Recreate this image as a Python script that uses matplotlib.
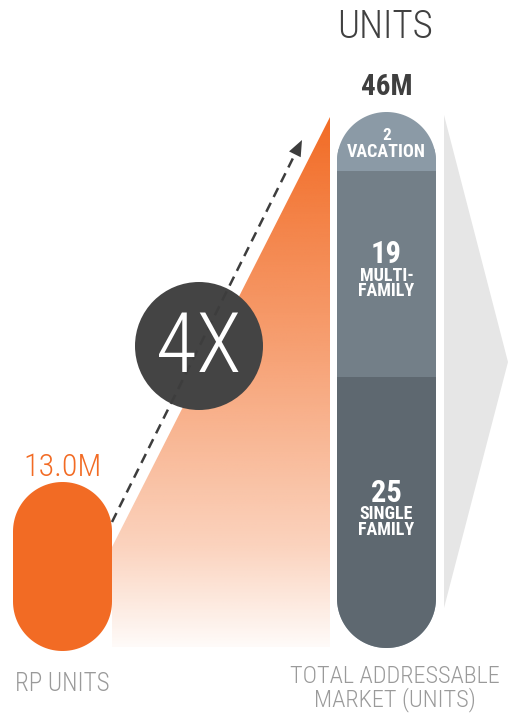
import numpy as np
import matplotlib
matplotlib.use("Agg")
import matplotlib.pyplot as plt
from matplotlib.patches import Polygon, Circle

# data
rp_units = 13.0
tam_total = 46
segment_values = [25, 19, 2]
segment_numbers = ["25", "19", "2"]
segment_names = ["SINGLE\nFAMILY", "MULTI-\nFAMILY", "VACATION"]
segment_colors = ["#5e6870", "#737f88", "#8b9aa6"]
multiple_label = "4X"
title = "UNITS"
rp_label = "RP UNITS"
tam_label = "TOTAL ADDRESSABLE\nMARKET (UNITS)"

ORANGE = "#f26b24"
FONT = ["Roboto Condensed", "Archivo Narrow", "Sofia Sans Condensed", "DejaVu Sans"]
plt.rcParams["font.family"] = FONT

W, H = 508, 714
fig = plt.figure(figsize=(W / 100, H / 100), dpi=100)

def px_axes(x0, y0, x1, y1):
    a = fig.add_axes([x0 / W, 1 - y1 / H, (x1 - x0) / W, (y1 - y0) / H])
    a.axis("off")
    return a

def pill(x0, y0, w, h, **kw):
    # stadium shape in pixel coords (y grows downward)
    r = w / 2
    cx = x0 + r
    a = np.linspace(np.pi, 2 * np.pi, 60)
    top = np.column_stack([cx + r * np.cos(a), y0 + r + r * np.sin(a)])
    a = np.linspace(0, np.pi, 60)
    bot = np.column_stack([cx + r * np.cos(a), y0 + h - r + r * np.sin(a)])
    return Polygon(np.vstack([top, bot]), closed=True, **kw)

# background layer in pixel coords
bg = px_axes(0, 0, W, H)

# light grey chevron on the right
bg.add_patch(Polygon([(444, 115), (508, 362), (444, 608)], closed=True,
                     facecolor="#e6e6e6", edgecolor="none"))

# orange gradient wedge (fades to white towards the bottom)
grad = np.zeros((300, 1, 4))
t = np.linspace(0, 1, 300)
grad[:, 0, :3] = matplotlib.colors.to_rgb(ORANGE)
grad[:, 0, 3] = np.interp(t, [0, 0.44, 0.81, 1], [1, 0.64, 0.3, 0.03])
img = bg.imshow(grad, extent=(112, 330, 647, 117), aspect="auto", origin="upper")
wedge = Polygon([(112, 547), (330, 117), (330, 647), (112, 647)], closed=True,
                facecolor="none", edgecolor="none")
bg.add_patch(wedge)
img.set_clip_path(wedge)

# dashed arrow
p0 = np.array([112.0, 522.0])
tip = np.array([302.0, 140.0])
u = (tip - p0) / np.linalg.norm(tip - p0)
n = np.array([-u[1], u[0]])
base = tip - 16 * u
bg.plot([p0[0], base[0]], [p0[1], base[1]], color="#3d3d3d", lw=1.8,
        dashes=(4, 2.6), solid_capstyle="butt")
bg.add_patch(Polygon([tip, base + 6.5 * n, base - 6.5 * n], closed=True,
                     facecolor="#3d3d3d", edgecolor="none"))

# 4X bubble
bg.add_patch(Circle((199, 346), 64, facecolor="#444444", edgecolor="none"))
bg.text(199, 349, multiple_label, color="white", fontsize=60, ha="center",
        va="center", fontweight="light")

# pill shapes (clip paths)
rp_pill = pill(13, 482, 99, 169, facecolor="none", edgecolor="none")
tam_pill = pill(337, 112, 99, 536, facecolor=segment_colors[-1], edgecolor="none")
bg.add_patch(rp_pill)
bg.add_patch(tam_pill)

bg.set_xlim(0, W)
bg.set_ylim(H, 0)

# RP units bar
ax_rp = px_axes(13, 482, 112, 651)
ax_rp.set_xlim(-0.5, 0.5)
ax_rp.set_ylim(0, rp_units)
bars = ax_rp.bar([0], [rp_units], width=1, color=ORANGE)
for b in bars:
    b.set_clip_path(rp_pill)
ax_rp.annotate(f"{rp_units:.1f}M", (0, rp_units), xytext=(0, 4.5),
               textcoords="offset points", ha="center", va="baseline",
               color=ORANGE, fontsize=23, fontweight="light", annotation_clip=False)
ax_rp.annotate(rp_label, (0, 0), xytext=(0, -29), textcoords="offset points",
               ha="center", va="baseline", color="#9a9a9a", fontsize=18,
               fontweight="light", annotation_clip=False)

# total addressable market stacked bar
ax_t = px_axes(337, 112, 436, 648)
ax_t.set_xlim(-0.5, 0.5)
top = 49.4
ax_t.set_ylim(0, top)
bottoms = np.concatenate([[0], np.cumsum(segment_values)[:-1]])
bars = ax_t.bar([0] * len(segment_values), segment_values, bottom=bottoms,
                width=1, color=segment_colors)
for b in bars:
    b.set_clip_path(tam_pill)

for i, (v, b0) in enumerate(zip(segment_values, bottoms)):
    if i == len(segment_values) - 1:
        mid = (b0 + top) / 2
        num_size, off_num, off_name = 12.5, 1.0, -1.2
    else:
        mid = b0 + v / 2
        num_size, off_num, off_name = 22, 7.5, 5.0
    ax_t.annotate(segment_numbers[i], (0, mid), xytext=(0, off_num),
                  textcoords="offset points", ha="center", va="baseline",
                  color="white", fontsize=num_size, fontweight="bold")
    ax_t.annotate(segment_names[i], (0, mid), xytext=(0, off_name),
                  textcoords="offset points", ha="center", va="top",
                  color="white", fontsize=13, fontweight="bold", linespacing=0.8)

ax_t.annotate(f"{tam_total}M", (0, top), xytext=(0, 12),
              textcoords="offset points", ha="center", va="baseline",
              color="#3f3f3f", fontsize=21, fontweight="bold", annotation_clip=False)
ax_t.annotate(title, (0, top), xytext=(-1, 53),
              textcoords="offset points", ha="center", va="baseline",
              color="#404040", fontsize=28, fontweight="light", annotation_clip=False)
ax_t.annotate(tam_label, (0, 0), xytext=(6, -12), textcoords="offset points",
              ha="center", va="top", color="#9a9a9a", fontsize=17.5,
              fontweight="light", linespacing=0.95, annotation_clip=False)

fig.savefig("out.png", dpi=100)
